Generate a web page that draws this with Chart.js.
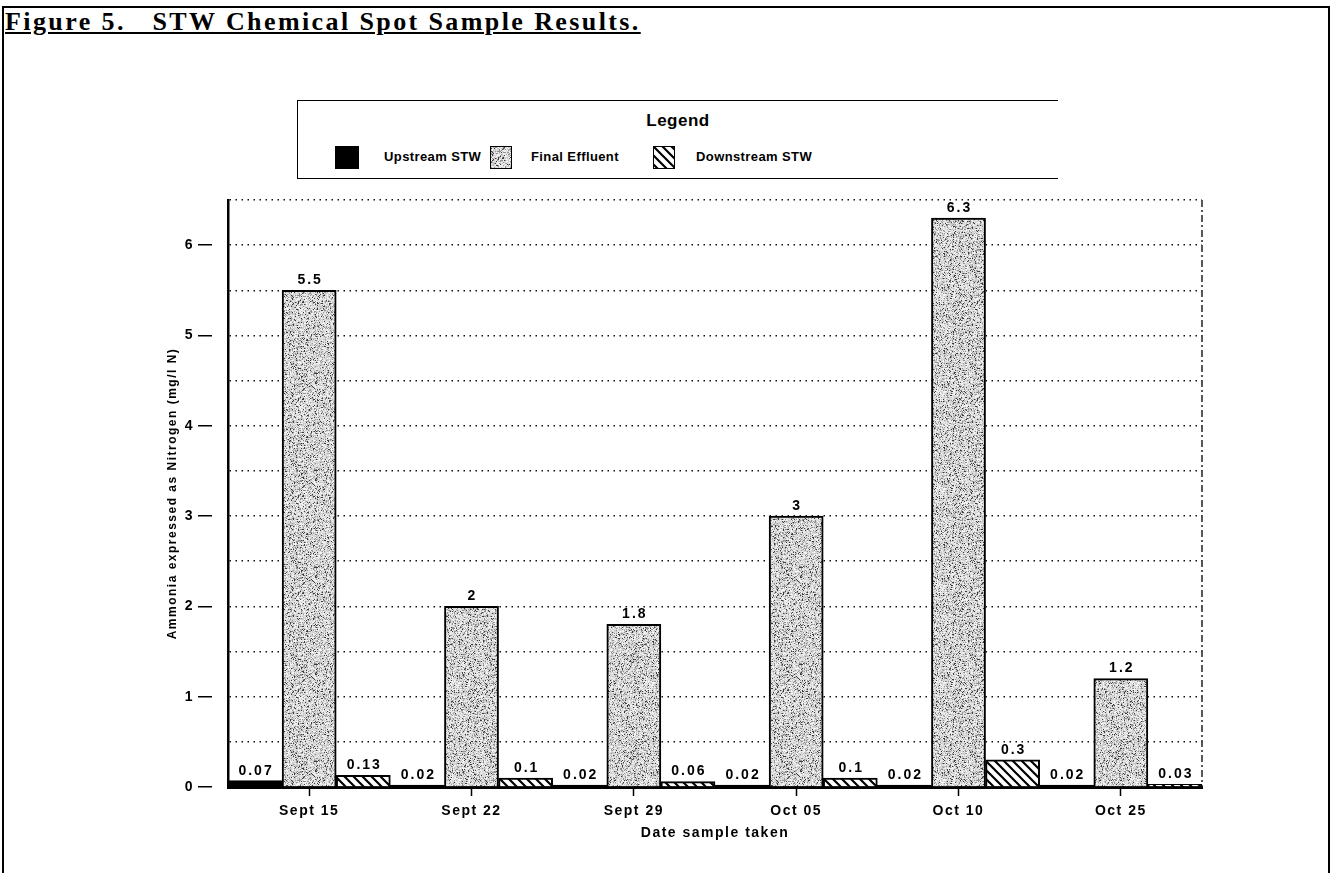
<!DOCTYPE html>
<html><head><meta charset="utf-8">
<script src="https://cdn.jsdelivr.net/npm/chart.js@4.4.1/dist/chart.umd.min.js"></script>
<style>
html,body{margin:0;padding:0;background:#fff;width:1333px;height:873px;overflow:hidden;}
#frame{position:absolute;left:2px;top:6px;width:1324px;height:880px;border:2px solid #000;border-bottom:none;}
#title{position:absolute;left:5px;top:7px;font-family:"Liberation Serif","Times New Roman",serif;font-weight:bold;font-size:26px;letter-spacing:2.4px;white-space:pre;text-decoration:underline;text-underline-offset:2px;color:#000;}
#wrap{position:absolute;left:0;top:0;width:1333px;height:873px;}
#legend{position:absolute;left:297px;top:100px;width:760px;height:77px;border:1.5px solid #000;border-right:none;background:#fff;font-family:"Liberation Sans",Arial,sans-serif;font-weight:bold;color:#000;}
#legend .lt{position:absolute;left:0;width:760px;top:10px;text-align:center;font-size:17px;letter-spacing:0.5px;}
#legend canvas{position:absolute;top:45px;border:1.5px solid #000;box-sizing:border-box;}
#legend .tx{position:absolute;top:46px;font-size:13px;letter-spacing:0.4px;line-height:20px;white-space:nowrap;}
</style></head>
<body>
<div id="frame"></div>
<div id="title">Figure 5.   STW Chemical Spot Sample Results.</div>
<div id="wrap"><canvas id="c" width="1333" height="873"></canvas></div>
<div id="legend">
  <div class="lt">Legend</div>
  <canvas id="sw0" width="22" height="21" style="left:37px"></canvas><div class="tx" style="left:86px">Upstream STW</div>
  <canvas id="sw1" width="20" height="21" style="left:192px"></canvas><div class="tx" style="left:233px">Final Effluent</div>
  <canvas id="sw2" width="20" height="21" style="left:355px"></canvas><div class="tx" style="left:398px">Downstream STW</div>
</div>
<script>
// ---- data ----
const categories = ['Sept 15','Sept 22','Sept 29','Oct 05','Oct 10','Oct 25'];
const seriesNames = ['Upstream STW','Final Effluent','Downstream STW'];
const upstreamSTW = [0.07, 0.02, 0.02, 0.02, 0.02, 0.02];
const finalEffluent = [5.5, 2, 1.8, 3, 6.3, 1.2];
const downstreamSTW = [0.13, 0.1, 0.06, 0.1, 0.3, 0.03];
const yMax = 6.5;
const yStep = 0.5;
const xTitle = 'Date sample taken';
const yTitle = 'Ammonia expressed as Nitrogen (mg/l N)';

// ---- fill patterns (texture only) ----
function makeSpeckle(){
  const N=97;
  const c=document.createElement('canvas'); c.width=c.height=N;
  const g=c.getContext('2d'); const img=g.createImageData(N,N);
  let a=1234567;
  const rnd=()=>{ a|=0; a=a+0x6D2B79F5|0; let t=Math.imul(a^a>>>15,1|a); t=t+Math.imul(t^t>>>7,61|t)^t; return ((t^t>>>14)>>>0)/4294967296; };
  for(let i=0;i<N*N;i++){
    const r=rnd(); let v;
    if(r<0.08) v=60; else if(r<0.24) v=145; else v=195+Math.floor(rnd()*55);
    img.data[i*4]=v; img.data[i*4+1]=v; img.data[i*4+2]=v; img.data[i*4+3]=255;
  }
  g.putImageData(img,0,0); return c;
}
function makeHatch(){
  const c=document.createElement('canvas'); c.width=c.height=9;
  const g=c.getContext('2d'); g.fillStyle='#fff'; g.fillRect(0,0,9,9);
  g.strokeStyle='#000'; g.lineWidth=2.2;
  g.beginPath(); g.moveTo(-2,-2); g.lineTo(11,11); g.moveTo(-2,7); g.lineTo(2,11); g.moveTo(7,-2); g.lineTo(11,2); g.stroke();
  return c;
}
const ctx=document.getElementById('c').getContext('2d');
const speckle=ctx.createPattern(makeSpeckle(),'repeat');
const hatch=ctx.createPattern(makeHatch(),'repeat');
const fills=['#000', speckle, hatch];
['sw0','sw1','sw2'].forEach((id,i)=>{
  const cv=document.getElementById(id), g=cv.getContext('2d');
  g.fillStyle = i===0 ? '#000' : g.createPattern(i===1?makeSpeckle():makeHatch(),'repeat');
  g.fillRect(0,0,cv.width,cv.height);
});

const FONT='"Liberation Sans", Arial, sans-serif';
Chart.defaults.font.family=FONT;
Chart.defaults.font.weight='bold';
Chart.defaults.color='#000';

const spacingPlugin={id:'spacing',beforeDraw(chart){ chart.ctx.letterSpacing='1.5px'; }};
const labelPlugin={id:'vlabels',afterDatasetsDraw(chart){
  const c=chart.ctx; c.save();
  c.letterSpacing='2px';
  c.font='bold 14px '+FONT; c.fillStyle='#000'; c.textAlign='center'; c.textBaseline='bottom';
  chart.data.datasets.forEach((ds,i)=>{
    chart.getDatasetMeta(i).data.forEach((el,j)=>{ c.fillText(String(ds.data[j]), el.x+1, el.y-3); });
  });
  c.restore();
}};
const rightBorder={id:'rightBorder',afterDraw(chart){
  const a=chart.chartArea, c=chart.ctx; c.save();
  c.strokeStyle='#222'; c.lineWidth=1.5; c.setLineDash([7,3,2,3]);
  c.beginPath(); c.moveTo(a.right,a.top); c.lineTo(a.right,a.bottom); c.stroke(); c.restore();
}};

new Chart(ctx,{
  type:'bar',
  data:{labels:categories,datasets:[
    {label:seriesNames[0],data:upstreamSTW,backgroundColor:fills[0],borderColor:'#000',borderWidth:2},
    {label:seriesNames[1],data:finalEffluent,backgroundColor:fills[1],borderColor:'#000',borderWidth:2},
    {label:seriesNames[2],data:downstreamSTW,backgroundColor:fills[2],borderColor:'#000',borderWidth:2}
  ]},
  options:{
    responsive:false,animation:false,
    categoryPercentage:1,barPercentage:1,
    layout:{padding:{left:148,top:200,right:131,bottom:0}},
    plugins:{legend:{display:false},tooltip:{enabled:false},title:{display:false}},
    scales:{
      x:{
        offset:true,
        afterFit(s){ s.height=86; },
        grid:{offset:false,drawOnChartArea:false,tickLength:9,tickColor:'#000',tickWidth:1.5},
        border:{display:true,color:'#000',width:3},
        ticks:{font:{size:14,weight:'bold'},padding:7,color:'#000',maxRotation:0},
        title:{display:true,text:xTitle,font:{size:14,weight:'bold'},padding:{top:0,bottom:31}}
      },
      y:{
        min:0,max:yMax,
        afterFit(s){ s.width=80; },
        grid:{color:'#111',lineWidth:1.5,tickLength:30,tickBorderDash:[14,100],
          tickColor:(c)=> (c.tick && c.tick.value%1===0) ? '#000':'rgba(0,0,0,0)',tickWidth:1.5},
        border:{display:true,color:'#000',width:2.5,dash:[1.5,4.5]},
        ticks:{stepSize:yStep,padding:4,font:{size:14,weight:'bold'},color:'#000',
          callback:(v)=> (v%1===0 ? String(v) : '')},
        title:{display:true,text:yTitle,font:{size:12,weight:'bold'},padding:{top:17,bottom:0}}
      }
    }
  },
  plugins:[spacingPlugin,labelPlugin,rightBorder]
});
</script>
</body></html>
